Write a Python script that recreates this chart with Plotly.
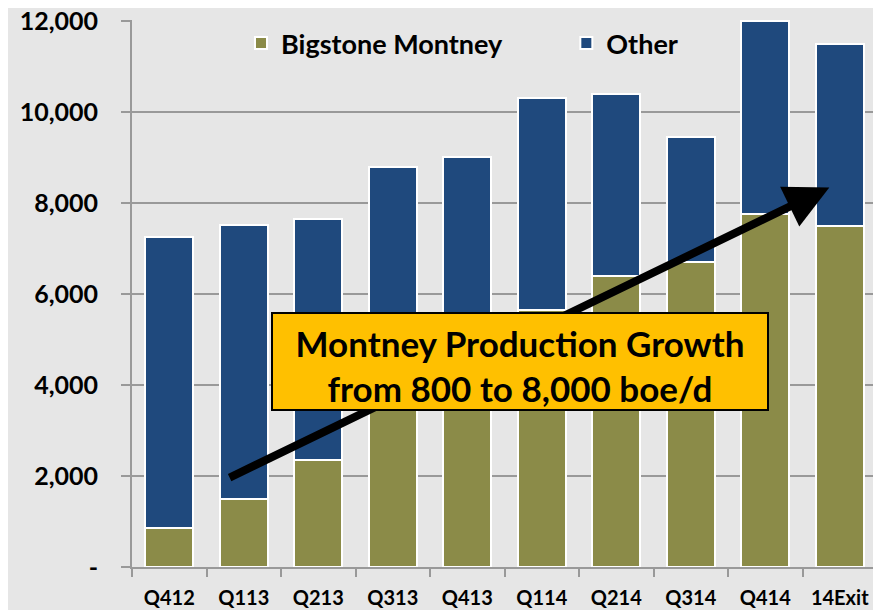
import plotly.graph_objects as go

categories = ["Q412", "Q113", "Q213", "Q313", "Q413", "Q114", "Q214", "Q314", "Q414", "14Exit"]
bigstone_montney = [850, 1500, 2350, 3700, 4600, 5650, 6400, 6700, 7750, 7500]
other = [6400, 6025, 5300, 5100, 4400, 4650, 4000, 2750, 4250, 4000]
y_tick_values = [0, 2000, 4000, 6000, 8000, 10000, 12000]
y_tick_labels = ["-", "2,000", "4,000", "6,000", "8,000", "10,000", "12,000"]

OLIVE = "#8B8B48"
BLUE = "#1F497D"
GRID = "#999999"
BG = "#E6E6E6"
FONT = "Lato"

fig = go.Figure()
fig.add_trace(go.Bar(x=categories, y=bigstone_montney, name="Bigstone Montney", legend="legend",
                     marker=dict(color=OLIVE, line=dict(color="white", width=2))))
fig.add_trace(go.Bar(x=categories, y=other, name="Other", legend="legend2",
                     marker=dict(color=BLUE, line=dict(color="white", width=2))))

# arrow (drawn first so the box lies over it)
fig.add_annotation(x=8.86, y=8340, ax=0.79, ay=1950, xref="x", yref="y", axref="x", ayref="y",
                   text="", showarrow=True, arrowhead=2, arrowsize=1.1, arrowwidth=8,
                   arrowcolor="black", standoff=0)
# callout box
fig.add_annotation(x=0.521, y=0.3757, xref="paper", yref="paper",
                   text="Montney Production Growth<br>from 800 to 8,000 boe/d",
                   showarrow=False, bgcolor="#FFC000", bordercolor="black", borderwidth=2,
                   borderpad=0, width=494, height=95, valign="bottom",
                   font=dict(family=FONT, size=35, color="black", weight="bold"))

legend_common = dict(orientation="v", yanchor="middle", xanchor="left", y=0.957,
                     bgcolor="rgba(0,0,0,0)", borderwidth=0,
                     font=dict(family=FONT, size=27, color="black", weight="bold"))

# the page body adds an 8px offset; figure sized to fill the remaining window
fig.update_layout(
    width=873, height=602,
    barmode="stack", bargap=0.36,
    paper_bgcolor=BG, plot_bgcolor=BG,
    margin=dict(l=124, r=4, t=12, b=43, autoexpand=False),
    font=dict(family=FONT, color="black"),
    showlegend=True,
    legend=dict(x=0.1463, **legend_common),
    legend2=dict(x=0.583, **legend_common),
    xaxis=dict(type="category", showline=True, linecolor=GRID, linewidth=2,
               ticks="outside", tickson="boundaries", ticklen=8, tickcolor=GRID, tickwidth=2,
               tickfont=dict(family=FONT, size=20, color="black", weight="bold"),
               ticklabelstandoff=12, automargin=False,
               showgrid=False),
    yaxis=dict(range=[0, 12020], tickvals=y_tick_values, ticktext=y_tick_labels,
               showline=True, linecolor=GRID, linewidth=2,
               ticks="outside", ticklen=9, tickcolor=GRID, tickwidth=2,
               showgrid=True, gridcolor=GRID, gridwidth=2, zeroline=False,
               tickfont=dict(family=FONT, size=25, color="black", weight="bold"),
               ticklabelstandoff=18, automargin=False, ticklabeloverflow="allow"),
)

fig.write_html("out.html")
